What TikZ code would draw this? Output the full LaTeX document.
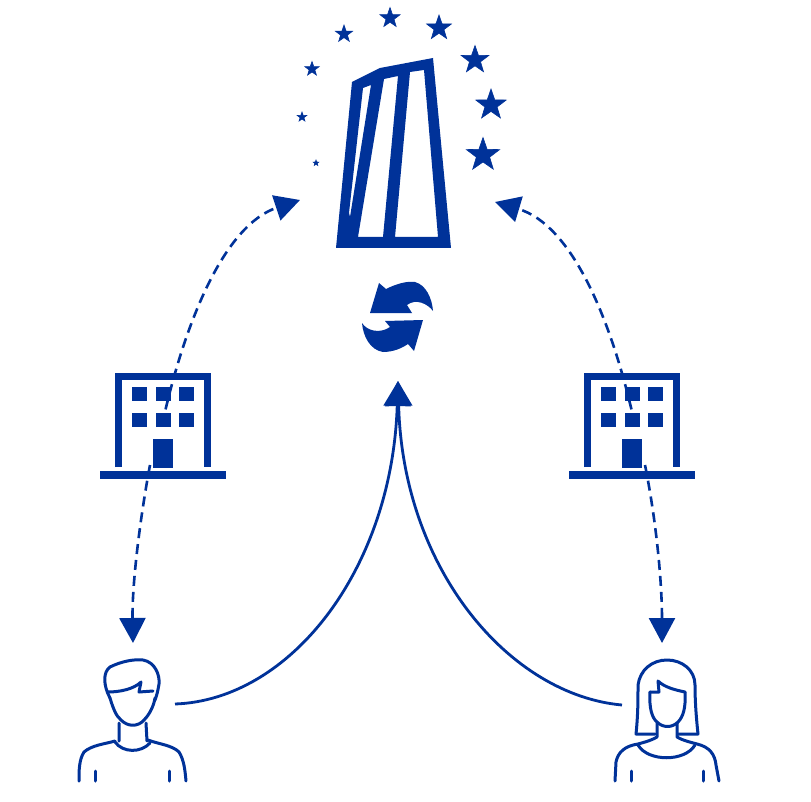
\documentclass[tikz,border=0pt]{standalone}
\usetikzlibrary{arrows.meta,shapes.geometric}
\definecolor{ecb}{HTML}{003299}
\tikzset{
  starmark/.style={star,star points=5,star point ratio=2.5,fill=ecb,draw=ecb,line width=0.6pt,inner sep=0pt,minimum size=#1},
  wall/.style={draw=ecb,line width=7pt,line cap=butt},
  figure/.style={draw=ecb,line width=3pt,line cap=round,line join=round},
  solidlink/.style={draw=ecb,line width=2.8pt,-{Triangle[length=25pt,width=27pt]}},
  dashlink/.style={draw=ecb,line width=2.6pt,dash pattern=on 10pt off 6pt,-{Triangle[length=25pt,width=26pt]}},
  block/.style={fill=ecb,draw=none}
}
\newcommand{\officeicon}[1]{%
  \begin{scope}[shift={(#1,0)}]
    \draw[wall,line join=miter] (118.5,467)--(118.5,376)--(207,376)--(207,467);
    \draw[draw=ecb,line width=8pt] (100,475)--(226,475);
    \foreach \wx in {132,156,179}\foreach \wy in {387,413}
      \fill[block] (\wx,\wy) rectangle ++(14.5,14);
    \fill[block] (153,439) rectangle (173,468);
  \end{scope}}
\begin{document}
\begin{tikzpicture}[x=1pt,y=-1pt]
\useasboundingbox (0,0) rectangle (811,802);
\fill[white] (0,0) rectangle (811,802);
% tower
\fill[ecb,even odd rule] (336,248)--(352,82)--(380,68)--(433,58)--(451,248)--cycle
  (410,72)--(424,70)--(438,237)--(395,237)--cycle
  (384,79)--(398,76)--(383,237)--(358,237)--cycle
  (363,88)--(371,85)--(350,217)--(349,213)--cycle;
% stars
\node[starmark=6pt] (s1) at (316,163) {};
\node[starmark=10pt] (s2) at (302,117) {};
\node[starmark=15pt] (s3) at (312,69) {};
\node[starmark=18pt] (s4) at (344,34) {};
\node[starmark=21pt] (s5) at (390,18) {};
\node[starmark=26pt] (s6) at (439,28) {};
\node[starmark=29pt] (s7) at (475,60) {};
\node[starmark=32pt] (s8) at (491,105) {};
\node[starmark=35pt] (s9) at (483,155) {};
% exchange icon
\fill[ecb] (370,313)--(379,283)--(386,289) .. controls (398,283) and (408,281) .. (415,282)
  .. controls (426,285) and (432,298) .. (433,311) .. controls (428,304) and (416,298) .. (407,305)
  --(412,313)--cycle;
\fill[ecb] (385,321)--(423,320)--(414,351)--(408,344) .. controls (398,351) and (388,352) .. (383,352)
  .. controls (370,350) and (363,336) .. (362,323) .. controls (367,331) and (380,334) .. (390,327)--cycle;
% offices
\officeicon{0}
\officeicon{469}
% man
\begin{scope}
  \draw[figure] (110,698) .. controls (103,685) and (103,672) .. (110,667)
     .. controls (122,661) and (135,659) .. (143,660) .. controls (155,662) and (160,675) .. (159,684) .. controls (158,690) and (157,695) .. (155,700);
  \draw[figure] (108,692) .. controls (120,692) and (134,689) .. (141,682) -- (139,692) -- (153,691);
  \draw[figure] (110,698) .. controls (113,708) and (116,716) .. (121,720) .. controls (128,727) and (138,727) .. (144,720) .. controls (150,714) and (154,705) .. (155,698);
  \draw[figure] (119,723)--(119,741) (146,723)--(147,741);
  \draw[figure] (115,742) .. controls (123,753) and (141,753) .. (150,743);
  \draw[figure] (79,781) .. controls (79,770) and (79,760) .. (84,752) .. controls (92,745) and (105,744) .. (115,741);
  \draw[figure] (186,781) .. controls (185,770) and (184,760) .. (179,752) .. controls (172,745) and (158,744) .. (148,740);
  \draw[figure] (95,771)--(95,781) (169,771)--(169,781);
\end{scope}
% woman
\begin{scope}
  \draw[figure] (655,734)--(636,734) .. controls (638,715) and (638,700) .. (638,685) .. controls (640,670) and (652,660) .. (667,660) .. controls (682,660) and (695,670) .. (695,685) .. controls (695,700) and (696,715) .. (698,734)--(678,734);
  \draw[figure] (650,692)--(659,692)--(658,681) .. controls (664,687) and (675,690) .. (685,692);
  \draw[figure] (650,692) .. controls (649,708) and (652,718) .. (657,722) .. controls (663,728) and (672,728) .. (678,722) .. controls (683,717) and (686,708) .. (685,692);
  \draw[figure] (657,723)--(657,737) .. controls (650,741) and (645,742) .. (638,744) .. controls (625,746) and (618,752) .. (616,762) -- (615,781);
  \draw[figure] (677,723)--(677,737) .. controls (684,741) and (690,742) .. (697,744) .. controls (710,747) and (715,755) .. (716,765) -- (719,781);
  \draw[figure] (638,745) .. controls (648,762) and (685,762) .. (695,745);
  \draw[figure] (631,771)--(631,781) (703,771)--(703,781);
\end{scope}
% connectors
\coordinate (manhand) at (175,704);
\coordinate (womanhand) at (622,705);
\coordinate (centre) at (398,381);
\coordinate (officeLup) at (162,425);
\coordinate (officeRup) at (635,425);
\coordinate (towerL) at (300,200);
\coordinate (towerR) at (495,202);
\coordinate (officeLdown) at (150,465);
\coordinate (officeRdown) at (645,465);
\coordinate (manhead) at (133,643);
\coordinate (womanhead) at (662,643);
\draw[solidlink] (manhand) .. controls (290,700) and (392,570) .. (centre);
\draw[solidlink] (womanhand) .. controls (510,695) and (403,570) .. (centre);
\draw[dashlink] (officeLup) .. controls (185,320) and (225,225) .. (towerL);
\draw[dashlink] (officeRup) .. controls (612,320) and (572,225) .. (towerR);
\draw[dashlink] (officeLdown) .. controls (138,530) and (132,590) .. (manhead);
\draw[dashlink] (officeRdown) .. controls (658,530) and (662,590) .. (womanhead);
\end{tikzpicture}
\end{document}
